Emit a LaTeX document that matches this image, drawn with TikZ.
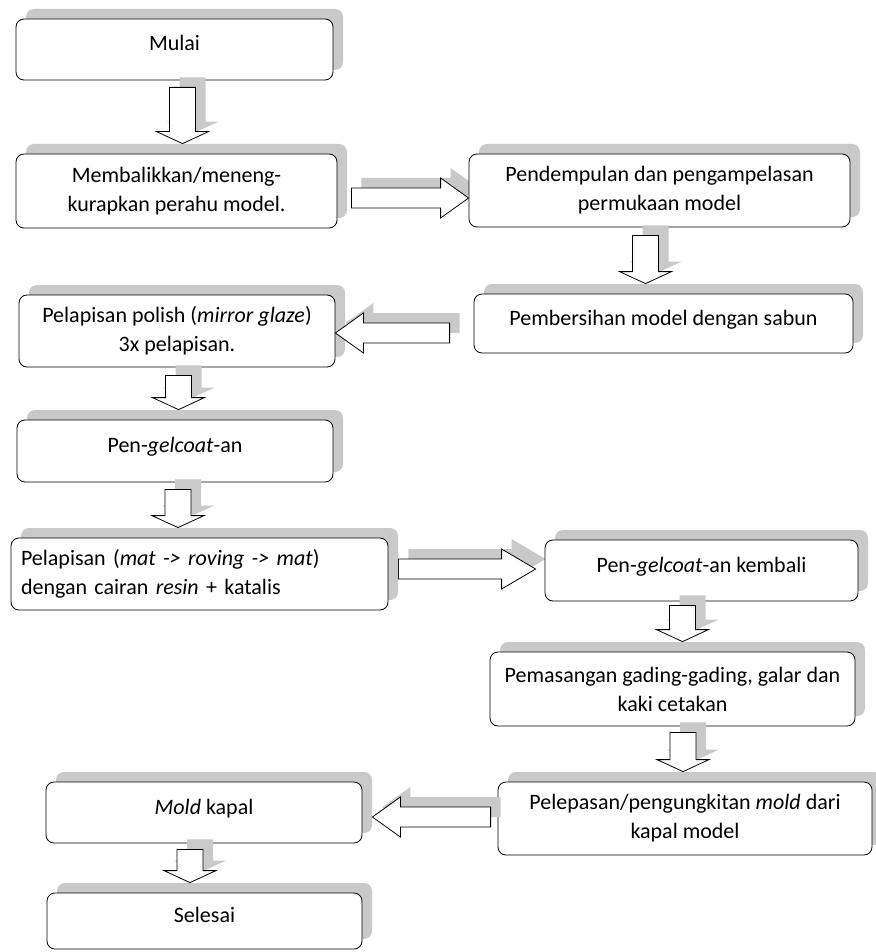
\documentclass[tikz,border=0pt]{standalone}
\usepackage{fontspec}
\setmainfont{Carlito}
\usetikzlibrary{calc,shadows,backgrounds}

\newcommand{\panahV}[2]{\draw[panah] let \p1=(#1), \p2=(#2) in
  (\x1-13pt,\y1) -- (\x1+13pt,\y1) -- (\x1+13pt,\y2+12pt) -- (\x1+26pt,\y2+12pt)
  -- (\x1,\y2) -- (\x1-26pt,\y2+12pt) -- (\x1-13pt,\y2+12pt) -- cycle;}
\newcommand{\panahH}[3]{\draw[panah] let \p1=(#1), \p2=(#2) in
  (\x1,\y1+10pt) -- (\x2#3,\y1+10pt) -- (\x2#3,\y1+20pt) -- (\x2,\y1)
  -- (\x2#3,\y1-20pt) -- (\x2#3,\y1-10pt) -- (\x1,\y1-10pt) -- cycle;}

\begin{document}
\begin{tikzpicture}[x=1pt,y=-1pt,
    bayang/.style={drop shadow={shadow xshift=10pt,shadow yshift=10pt,fill=black!21,opacity=1}},
    kotak/.style={draw,line width=0.8pt,rounded corners=8pt,fill=white,align=center,inner sep=0pt,
      font=\fontsize{22}{29}\selectfont,bayang},
    satu/.style={text height=15pt,text depth=12pt},
    panah/.style={draw,line width=0.8pt,fill=white,bayang}]
    \useasboundingbox (0,0) rectangle (875,952);

    \node[kotak,satu,minimum width=317,minimum height=61] (mulai) at (174.5,49.5) {Mulai};
    \node[kotak,minimum width=321,minimum height=74] (balik) at (176.5,191) {Membalikkan/meneng-\\kurapkan perahu model.};
    \node[kotak,minimum width=381,minimum height=73] (dempul) at (659.5,190.5) {Pendempulan dan pengampelasan\\permukaan model};
    \node[kotak,satu,minimum width=379,minimum height=59] (bersih) at (663.5,323.5) {Pembersihan model dengan sabun};
    \node[kotak,minimum width=316,minimum height=72] (polish) at (177,331) {Pelapisan polish (\textit{mirror glaze})\\3x pelapisan.};
    \node[kotak,satu,minimum width=316,minimum height=62] (gelcoat) at (175,451) {Pen-\textit{gelcoat}-an};
    \node[kotak,minimum width=377,minimum height=72,text width=357,align=left] (lapis) at (199.5,574) {Pelapisan (\textit{mat -> roving -> mat})\\dengan cairan \textit{resin} + katalis};
    \node[kotak,satu,minimum width=313,minimum height=61] (kembali) at (701.5,570.5) {Pen-\textit{gelcoat}-an kembali};
    \node[kotak,minimum width=365,minimum height=74] (gading) at (672.5,689) {Pemasangan gading-gading, galar dan\\kaki cetakan};
    \node[kotak,minimum width=374,minimum height=73] (lepas) at (685,818.5) {Pelepasan/pengungkitan \textit{mold} dari\\kapal model};
    \node[kotak,satu,minimum width=316,minimum height=61] (mold) at (204,812.5) {\textit{Mold} kapal};
    \node[kotak,satu,minimum width=315,minimum height=56] (selesai) at (204.5,921) {Selesai};

    \begin{pgfonlayer}{background}
    \panahH{$(balik.east)+(14,7)$}{dempul.west}{-28pt}
    \panahH{$(lapis.east)+(10,-5)$}{[xshift=-9pt]kembali.west}{-34pt}
    \end{pgfonlayer}
    \panahV{$(mulai.south)+(8,7)$}{[yshift=10pt]balik.north}
    \panahV{$(dempul.south)+(-14,8)$}{[yshift=10pt]bersih.north}
    \panahH{$(bersih.west)+(-24,9.5)$}{polish.east}{+28pt}
    \panahV{$(polish.south)+(1.5,8)$}{[yshift=10pt]gelcoat.north}
    \panahV{$(gelcoat.south)+(3,7)$}{[yshift=10pt]lapis.north}
    \panahV{$(kembali.south)+(-19,4)$}{[yshift=10pt]gading.north}
    \panahV{$(gading.south)+(10.5,6)$}{[yshift=10pt]lepas.north}
    \panahH{$(lepas.west)+(-7,-1.5)$}{[xshift=10pt]mold.east}{+28pt}
    \panahV{$(mold.south)+(-14,6)$}{[yshift=10pt]selesai.north}
\end{tikzpicture}
\end{document}
